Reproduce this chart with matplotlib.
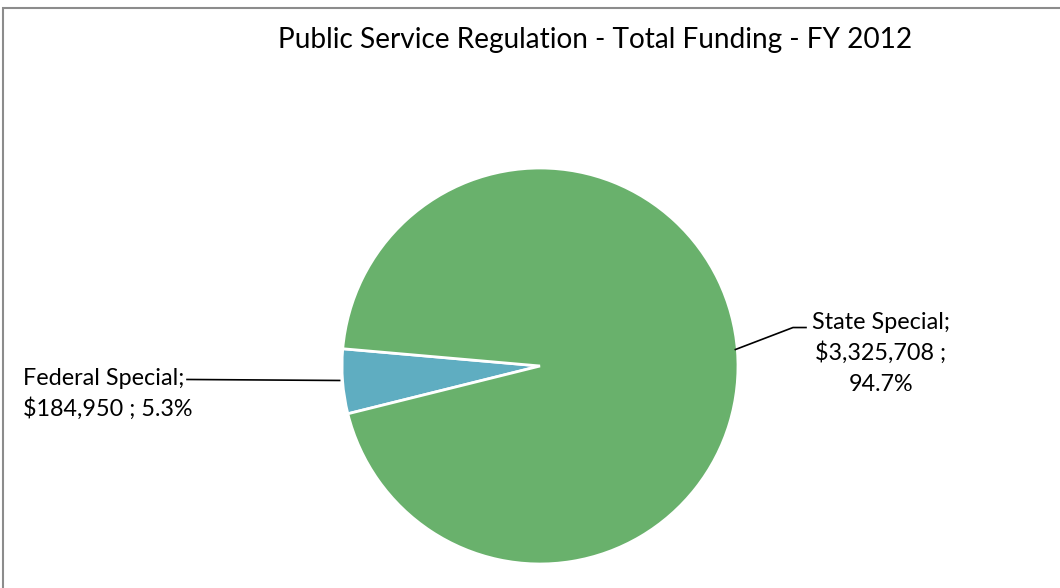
import numpy as np
import matplotlib.pyplot as plt
from matplotlib.patches import Rectangle

plt.rcParams['font.family'] = ['Lato', 'DejaVu Sans']

categories = ['Federal Special', 'State Special']
funding = [184950, 3325708]
value_labels = ['$184,950', '$3,325,708']
pct_labels = ['5.3%', '94.7%']
colors = ['#5fadc1', '#69b16c']

W, H = 1060, 588
fig = plt.figure(figsize=(W / 100, H / 100), dpi=100)
ax = fig.add_axes([0, 0, 1, 1])
ax.set_xlim(0, W)
ax.set_ylim(0, H)
ax.set_aspect('equal')
ax.axis('off')

# chart area frame (only top and left edges fall inside the canvas)
ax.add_patch(Rectangle((3, -20), W + 40, H - 8 + 20, fill=False,
                       edgecolor='#8c8c8c', linewidth=1.5))

cx, cy, r = 540, H - 366, 198
wedges, _ = ax.pie(funding, colors=colors, startangle=175, counterclock=True,
                   center=(cx, cy), radius=r,
                   wedgeprops=dict(edgecolor='white', linewidth=2))
ax.set_xlim(0, W)
ax.set_ylim(0, H)


def edge_point(w):
    mid = np.deg2rad((w.theta1 + w.theta2) / 2)
    return cx + r * np.cos(mid), cy + r * np.sin(mid)


fs = 16.8

# Federal Special label, to the left
x0, y0 = edge_point(wedges[0])
ax.plot([x0 - 3, 187], [y0 + 1, y0 + 2], color='black', lw=1.2)
ax.text(23, y0 + 3, f'{categories[0]};', fontsize=fs, ha='left',
        va='center')
ax.text(23, y0 - 27, f'{value_labels[0]} ; {pct_labels[0]}', fontsize=fs,
        ha='left', va='center')

# State Special label, to the right
x1, y1 = edge_point(wedges[1])
ax.plot([x1 - 2, 793, 806], [y1 + 1, y1 + 23, y1 + 23], color='black',
        lw=1.2)
ax.text(881, y1 + 28, f'{categories[1]};', fontsize=fs, ha='center',
        va='center')
ax.text(881, y1 - 2, f'{value_labels[1]} ;', fontsize=fs, ha='center',
        va='center')
ax.text(881, y1 - 34, pct_labels[1], fontsize=fs, ha='center',
        va='center')

ax.text(595, H - 40, 'Public Service Regulation - Total Funding - FY 2012',
        fontsize=20.2, ha='center', va='center')

fig.savefig('out.png', dpi=100, facecolor='white')
